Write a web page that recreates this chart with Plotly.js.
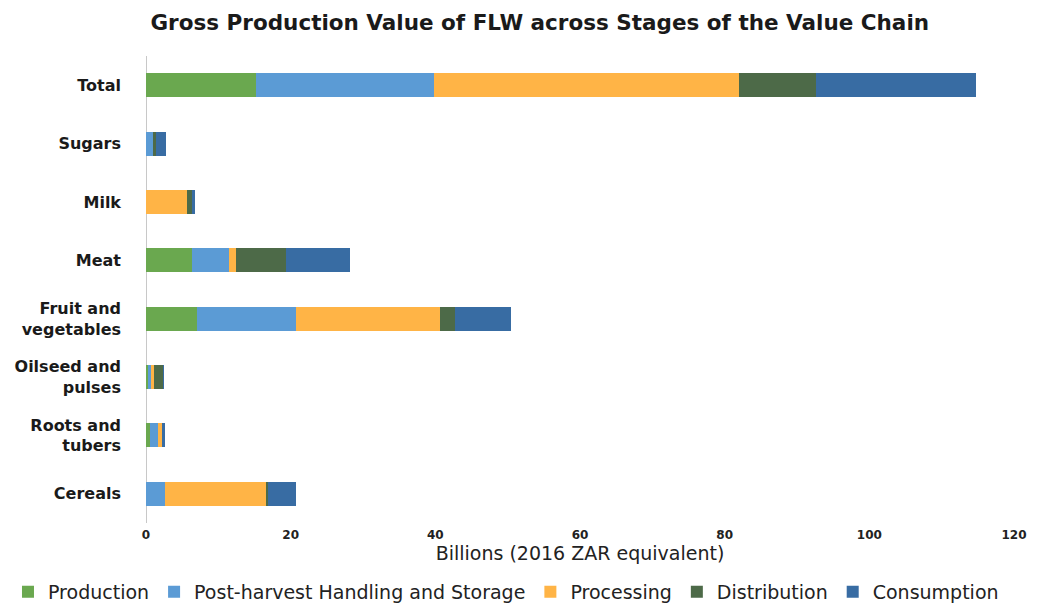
<!DOCTYPE html>
<html>
<head>
<meta charset="utf-8">
<script src="https://cdn.plot.ly/plotly-3.0.1.min.js"></script>
<style>html,body{margin:0;padding:0;background:#fff;}#chart{width:1040px;height:605px;}</style>
</head>
<body>
<div id="chart"></div>
<script>
const categories = ["Total", "Sugars", "Milk", "Meat", "Fruit and<br>vegetables", "Oilseed and<br>pulses", "Roots and<br>tubers", "Cereals"];
const stages = ["Production", "Post-harvest Handling and Storage", "Processing", "Distribution", "Consumption"];
const production   = [15.2, 0.0, 0.0, 6.4, 7.0, 0.3, 0.6, 0.0];
const postHarvest  = [24.6, 1.0, 0.0, 5.1, 13.8, 0.4, 1.1, 2.6];
const processing   = [42.2, 0.0, 5.6, 1.0, 19.8, 0.4, 0.5, 14.0];
const distribution = [10.6, 0.4, 0.7, 6.9, 2.1, 1.2, 0.0, 0.2];
const consumption  = [22.2, 1.3, 0.5, 8.8, 7.8, 0.2, 0.4, 3.9];
const seriesValues = [production, postHarvest, processing, distribution, consumption];
const colors = ["#6aa84f", "#5b9bd5", "#ffb446", "#4d6a48", "#386ca3"];
const xTicks = [0, 20, 40, 60, 80, 100, 120];

const traces = stages.map((name, i) => ({
  type: "bar",
  orientation: "h",
  name: name,
  y: categories,
  x: seriesValues[i],
  marker: {color: colors[i], line: {width: 0}},
  width: 0.41,
  hoverinfo: "x+name"
}));

const layout = {
  width: 1040,
  height: 605,
  barmode: "stack",
  paper_bgcolor: "#ffffff",
  plot_bgcolor: "#ffffff",
  font: {family: "DejaVu Sans, Liberation Sans, Arial, sans-serif", color: "#222"},
  margin: {l: 146, r: 26, t: 56, b: 82, pad: 0, autoexpand: false},
  title: {
    text: "<b>Gross Production Value of FLW across Stages of the Value Chain</b>",
    font: {size: 21.5, color: "#1a1a1a"},
    x: 0.519, xanchor: "center", xref: "container",
    y: 0.963, yanchor: "middle", yref: "container"
  },
  xaxis: {
    range: [0, 120],
    tickvals: xTicks,
    ticktext: xTicks.map(String),
    tickfont: {size: 12, color: "#222", weight: "bold"},
    showgrid: false,
    zeroline: true,
    zerolinecolor: "#c8c8c8",
    zerolinewidth: 1,
    showline: false,
    ticks: "",
    ticklabelstandoff: 3,
    title: {text: "Billions (2016 ZAR equivalent)", font: {size: 19, color: "#222"}, standoff: 4}
  },
  yaxis: {
    autorange: "reversed",
    tickfont: {size: 16, color: "#1a1a1a", weight: "bold"},
    showgrid: false,
    zeroline: false,
    showline: false,
    ticks: "",
    ticklabelstandoff: 24
  },
  legend: {
    orientation: "h",
    x: -0.159, xanchor: "left",
    y: -0.188, yanchor: "bottom",
    font: {size: 19, color: "#222"},
    traceorder: "normal",
    itemwidth: 30
  },
  showlegend: true
};

Plotly.newPlot("chart", traces, layout, {displayModeBar: false, staticPlot: true});
</script>
</body>
</html>
